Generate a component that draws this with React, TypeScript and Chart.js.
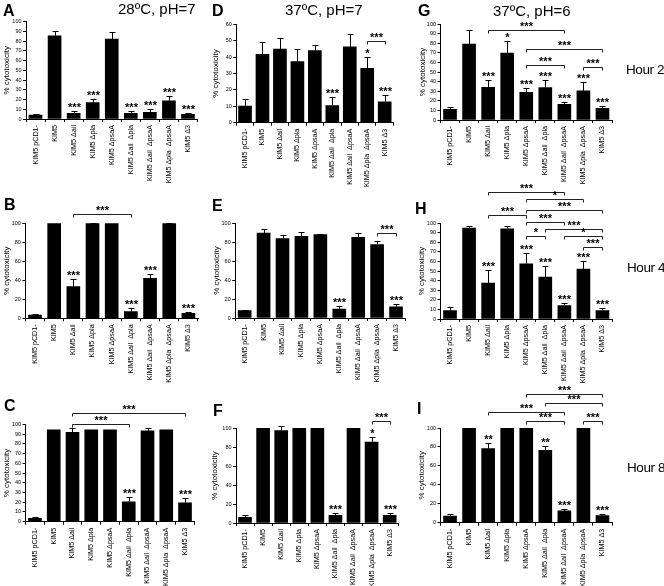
import React, { useEffect, useRef } from "react";
import { Chart, registerables } from "chart.js";

Chart.register(...registerables);
Chart.defaults.font.family = "'Liberation Sans', Arial, sans-serif";
Chart.defaults.color = "#000";

// ---------- DATA ----------
const categories = [
  "KIM5 pCD1-",
  "KIM5",
  "KIM5 Δail",
  "KIM5 Δpla",
  "KIM5 ΔpsaA",
  "KIM5 Δail  Δpla",
  "KIM5 Δail  ΔpsaA",
  "KIM5 Δpla  ΔpsaA",
  "KIM5 Δ3",
];

const yTitle = "% cytotoxicity";
const columnTitles = ["28ºC, pH=7", "37ºC, pH=7", "37ºC, pH=6"];
const rowTitles = ["Hour 2", "Hour 4", "Hour 8"];
const panelLetters = ["A", "D", "G", "B", "E", "H", "C", "F", "I"];

const valuesA = [4.1, 85.6, 5.8, 16.8, 82.2, 5.8, 6.8, 18.8, 4.8];
const errorsA = [1, 5.2, 2.4, 3.7, 7.5, 2.4, 3.1, 4.8, 1.7];
const starsA = ["", "", "***", "***", "", "***", "***", "***", "***"];
const bracketsA: [number, number, string, number][] = [];

const valuesD = [10.2, 41.7, 44.9, 37.2, 43.9, 10.4, 46.3, 33.1, 12.8];
const errorsD = [4, 7.7, 6.5, 8, 3.5, 5.5, 7.7, 6.7, 4];
const starsD = ["", "", "", "", "", "***", "", "*", "***"];
const bracketsD: [number, number, string, number][] = [[7, 8, "***", 49.8]];

const valuesG = [11.1, 79, 34.1, 69.7, 28.9, 33.8, 16.4, 30.3, 12.2];
const errorsG = [2.1, 15, 7.7, 12.5, 4.2, 8, 2.4, 9.1, 2.8];
const starsG = ["", "", "***", "*", "***", "***", "***", "***", "***"];
const bracketsG: [number, number, string, number][] = [
  [2, 6, "***", 94],
  [4, 8, "***", 73.9],
  [4, 6, "***", 56.8],
  [7, 8, "***", 55.7],
];

const valuesB = [3.5, 100, 33.3, 100, 100, 7, 42.1, 100, 5.3];
const errorsB = [1.2, 0.3, 7.7, 0.8, 0.3, 3.5, 5, 0.8, 1.7];
const starsB = ["", "", "***", "", "", "***", "***", "", "***"];
const bracketsB: [number, number, string, number][] = [[2, 5, "***", 109.8]];

const valuesE = [7.7, 89.5, 83.6, 86, 87.8, 9.4, 85, 77.4, 11.8];
const errorsE = [1.2, 4.2, 4.2, 4.2, 1, 2.8, 4.5, 4, 2.8];
const starsE = ["", "", "", "", "", "***", "", "", "***"];
const bracketsE: [number, number, string, number][] = [[7, 8, "***", 89.8]];

const valuesH = [8.7, 94.8, 37.3, 94, 57.5, 43.6, 13.9, 51.9, 8.7];
const errorsH = [4.2, 1.7, 13.9, 3.2, 11.1, 11.1, 2.5, 8, 2.4];
const starsH = ["", "", "***", "", "***", "***", "***", "***", "***"];
const bracketsH: [number, number, string, number][] = [
  [2, 6, "***", 132.6],
  [4, 7, "*", 124.7],
  [4, 8, "***", 113.5],
  [2, 4, "***", 108.3],
  [4, 6, "***", 101.4],
  [5, 8, "***", 93.4],
  [4, 5, "*", 86.5],
  [6, 8, "*", 86.5],
  [7, 8, "***", 75.3],
];

const valuesC = [3.4, 94.2, 91.8, 94.2, 94.2, 20.5, 93.2, 94.2, 19.5];
const errorsC = [1.7, 0, 4, 0, 0, 4.5, 2.7, 0, 5.3];
const starsC = ["", "", "", "", "", "***", "", "", "***"];
const bracketsC: [number, number, string, number][] = [
  [2, 8, "***", 111.4],
  [2, 5, "***", 100.7],
];

const valuesF = [6, 100, 97.2, 100, 100, 8.1, 100, 85.3, 8.1];
const errorsF = [2.8, 0, 4.5, 0.3, 0.3, 2.5, 0.3, 4.9, 2.5];
const starsF = ["", "", "", "", "", "***", "", "*", "***"];
const bracketsF: [number, number, string, number][] = [[7, 8, "***", 107.7]];

const valuesI = [7, 100, 78.2, 100, 100, 76.5, 12.6, 100, 7.4];
const errorsI = [1.8, 0, 6, 0, 0, 4.9, 1.4, 0.5, 1.7];
const starsI = ["", "", "**", "", "", "**", "***", "", "***"];
const bracketsI: [number, number, string, number][] = [
  [4, 8, "***", 135.6],
  [5, 8, "***", 126.1],
  [2, 6, "***", 116.6],
  [4, 6, "***", 107.4],
  [7, 8, "***", 107.4],
];

const yMaxes = [100, 60, 100, 100, 100, 100, 100, 100, 100];

// ---------- LAYOUT ----------
type Layout = {
  cl: number; ct: number; cw: number; ch: number;
  pl: number; pr: number; pt: number; pb: number; tpad: number;
};
const layouts: Layout[] = [
  { cl: 0, ct: 0, cw: 210, ch: 190, pl: 26, pr: 197.5, pt: 21.7, pb: 119, tpad: 2 },
  { cl: 210, ct: 0, cw: 210, ch: 190, pl: 236.3, pr: 393.4, pt: 24.3, pb: 122.7, tpad: 0.7 },
  { cl: 415, ct: 0, cw: 215, ch: 190, pl: 440.5, pr: 612, pt: 24, pb: 120, tpad: 2.7 },
  { cl: 0, ct: 190, cw: 210, ch: 200, pl: 25.4, pr: 198, pt: 223.3, pb: 318.3, tpad: 2 },
  { cl: 210, ct: 190, cw: 210, ch: 200, pl: 235.2, pr: 405.5, pt: 223, pb: 318, tpad: 1.9 },
  { cl: 415, ct: 170, cw: 215, ch: 220, pl: 440.5, pr: 612, pt: 223, pb: 319, tpad: 1.7 },
  { cl: 0, ct: 390, cw: 210, ch: 196, pl: 25.6, pr: 194.4, pt: 424.3, pb: 521.7, tpad: 2 },
  { cl: 210, ct: 390, cw: 210, ch: 196, pl: 236, pr: 398.7, pt: 428, pb: 523, tpad: 0.2 },
  { cl: 415, ct: 375, cw: 215, ch: 211, pl: 440.5, pr: 612, pt: 428, pb: 522.7, tpad: 1.7 },
];

const panelData = [
  { values: valuesA, errors: errorsA, stars: starsA, brackets: bracketsA },
  { values: valuesD, errors: errorsD, stars: starsD, brackets: bracketsD },
  { values: valuesG, errors: errorsG, stars: starsG, brackets: bracketsG },
  { values: valuesB, errors: errorsB, stars: starsB, brackets: bracketsB },
  { values: valuesE, errors: errorsE, stars: starsE, brackets: bracketsE },
  { values: valuesH, errors: errorsH, stars: starsH, brackets: bracketsH },
  { values: valuesC, errors: errorsC, stars: starsC, brackets: bracketsC },
  { values: valuesF, errors: errorsF, stars: starsF, brackets: bracketsF },
  { values: valuesI, errors: errorsI, stars: starsI, brackets: bracketsI },
];

const FONT = "'Liberation Sans', Arial, sans-serif";

function Panel({ idx }: { idx: number }) {
  const ref = useRef<HTMLCanvasElement | null>(null);
  const L = layouts[idx];
  const D = panelData[idx];
  useEffect(() => {
    if (!ref.current) return;
    const annot = {
      id: "annot" + idx,
      afterDatasetsDraw(chart: any) {
        const ctx = chart.ctx;
        const xs = chart.scales.x;
        const ys = chart.scales.y;
        ctx.save();
        ctx.strokeStyle = "#000";
        ctx.fillStyle = "#000";
        ctx.lineWidth = 1;
        ctx.font = "bold 11px " + FONT;
        ctx.textAlign = "center";
        ctx.textBaseline = "alphabetic";
        D.values.forEach((v: number, i: number) => {
          const px = Math.round(xs.getPixelForValue(i)) + 0.5;
          const e = D.errors[i];
          const topV = v + e;
          const yTop = Math.round(ys.getPixelForValue(topV)) + 0.5;
          if (e > 0.4) {
            const yBase = ys.getPixelForValue(v);
            ctx.beginPath();
            ctx.moveTo(px, yBase);
            ctx.lineTo(px, yTop);
            ctx.moveTo(px - 3, yTop);
            ctx.lineTo(px + 3, yTop);
            ctx.stroke();
          }
          if (D.stars[i]) {
            ctx.fillText(D.stars[i], px, yTop - 1);
          }
        });
        ctx.strokeStyle = "#222";
        D.brackets.forEach(([a, b, label, lvl]) => {
          const x1 = Math.round(xs.getPixelForValue(a)) + 0.5;
          const x2 = Math.round(xs.getPixelForValue(b)) + 0.5;
          const y = Math.round(ys.getPixelForValue(lvl)) + 0.5;
          ctx.beginPath();
          ctx.moveTo(x1, y + 3);
          ctx.lineTo(x1, y);
          ctx.lineTo(x2, y);
          ctx.lineTo(x2, y + 3);
          ctx.stroke();
          ctx.fillText(label, (x1 + x2) / 2, y - 0.5);
        });
        ctx.restore();
      },
    };
    const chart = new Chart(ref.current, {
      type: "bar",
      data: {
        labels: categories,
        datasets: [
          {
            data: D.values,
            backgroundColor: "#000",
            borderWidth: 0,
            barThickness: 13,
          },
        ],
      },
      options: {
        responsive: false,
        animation: false,
        devicePixelRatio: 1,
        layout: {
          padding: { left: 0, top: L.pt - L.ct, right: L.cl + L.cw - L.pr, bottom: 0 },
        },
        plugins: { legend: { display: false }, tooltip: { enabled: false } },
        scales: {
          x: {
            grid: { display: true, drawOnChartArea: false, tickLength: 3, color: "#000" },
            border: { display: true, color: "#000", width: 1 },
            ticks: {
              minRotation: 90,
              maxRotation: 90,
              autoSkip: false,
              padding: 3,
              color: "#000",
              font: { size: 7.2, family: FONT },
            },
            afterFit: (s: any) => {
              s.height = L.ct + L.ch - L.pb;
            },
          },
          y: {
            min: 0,
            max: yMaxes[idx],
            grid: { display: true, drawOnChartArea: false, tickLength: 3, color: "#000" },
            border: { display: true, color: "#000", width: 1 },
            ticks: {
              stepSize: 10,
              padding: 1.5,
              color: "#000",
              font: { size: 5.5, family: FONT },
            },
            title: {
              display: true,
              text: yTitle,
              color: "#000",
              font: { size: 8, family: FONT },
              padding: { top: L.tpad, bottom: 0 },
            },
            afterFit: (s: any) => {
              s.width = L.pl - L.cl;
            },
          },
        },
      } as any,
      plugins: [annot],
    });
    return () => chart.destroy();
  }, []);
  return (
    <canvas
      ref={ref}
      width={L.cw}
      height={L.ch}
      style={{ position: "absolute", left: L.cl, top: L.ct, width: L.cw, height: L.ch }}
    />
  );
}

function Txt({ x, capTop, size, bold, spacing, children }: any) {
  return (
    <div
      style={{
        position: "absolute",
        left: x,
        top: capTop - 0.13 * size,
        fontSize: size,
        lineHeight: 1,
        fontWeight: bold ? "bold" : "normal",
        fontFamily: FONT,
        whiteSpace: "nowrap",
        letterSpacing: spacing || 0,
        color: "#000",
      }}
    >
      {children}
    </div>
  );
}

const letterPos = [
  [3, 5], [212, 5], [418, 5],
  [4, 199], [212, 200], [415, 203],
  [4, 400], [213, 405], [417, 403],
];
const colTitlePos = [[118, 3], [285, 4], [493, 5]];
const rowTitlePos = [[626, 65], [627, 263], [627, 463]];

export default function App() {
  return (
    <div
      style={{
        position: "fixed",
        left: 0,
        top: 0,
        width: 664,
        height: 586,
        overflow: "hidden",
        background: "#fff",
      }}
    >
      {layouts.map((_, i) => (
        <Panel key={i} idx={i} />
      ))}
      {panelLetters.map((t, i) => (
        <Txt key={"l" + i} x={letterPos[i][0]} capTop={letterPos[i][1]} size={16} bold>
          {t}
        </Txt>
      ))}
      {columnTitles.map((t, i) => (
        <Txt key={"c" + i} x={colTitlePos[i][0]} capTop={colTitlePos[i][1]} size={15}>
          {t}
        </Txt>
      ))}
      {rowTitles.map((t, i) => (
        <Txt key={"r" + i} x={rowTitlePos[i][0]} capTop={rowTitlePos[i][1]} size={13.5} spacing={-0.4}>
          {t}
        </Txt>
      ))}
    </div>
  );
}
